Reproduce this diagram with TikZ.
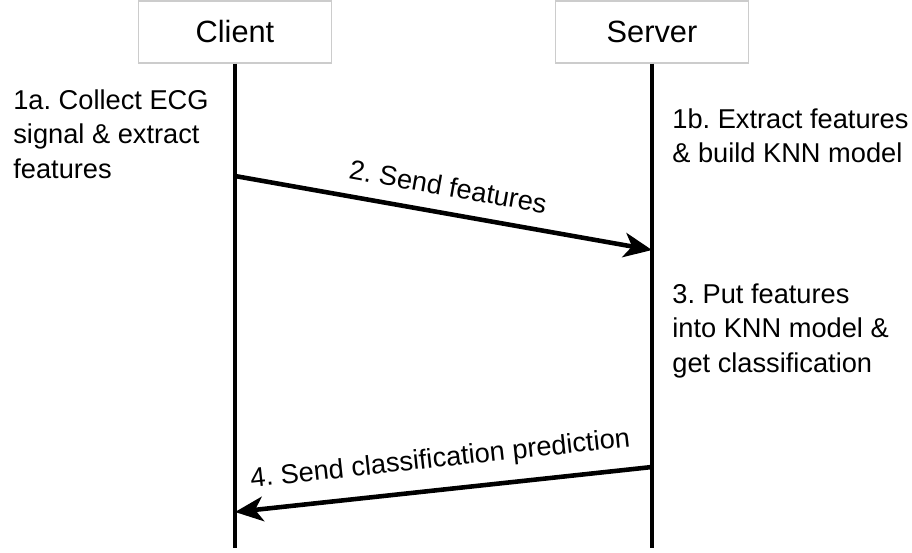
\documentclass[tikz,border=0pt]{standalone}
\usepackage{fontspec}
\setmainfont{Liberation Sans}
\usetikzlibrary{arrows.meta,positioning}
\frenchspacing

\begin{document}
\begin{tikzpicture}[x=0.02cm,y=-0.02cm,
    actor/.style={draw=black!20,line width=0.7pt,minimum width=3.86cm,
        minimum height=1.24cm,font={\fontsize{17.5}{20}\selectfont}},
    lifeline/.style={line width=2.4pt},
    msg/.style={line width=2.6pt},
    tipfwd/.style={-{Stealth[length=16pt,width=14pt,inset=4.5pt]}},
    tipback/.style={{Stealth[length=16pt,width=14pt,inset=4.5pt]}-},
    msglabel/.style={font={\fontsize{15.5}{19.8}\selectfont},sloped,above=5pt},
    note/.style={font={\fontsize{15.5}{19.8}\selectfont},align=left,
        anchor=north west,inner sep=0pt}]
\useasboundingbox (0,0) rectangle (912,552);
\node[actor] (client) at (235,32) {Client};
\node[actor] (server) at (652,32) {Server};
\coordinate (clientend) at (235,548);
\coordinate (serverend) at (652,548);
\draw[lifeline] (client) -- (clientend);
\draw[lifeline] (server) -- (serverend);

\node[note] (collect) at (13,89) {1a. Collect ECG\\signal \& extract\\features};
\node[note] (build) at (672,108) {1b. Extract features\\\& build KNN model};
\node[note] (classify) at (672,283) {3. Put features\\into KNN model \&\\get classification};

\coordinate (send) at (235,176);
\coordinate (recv) at (652,250);
\draw[msg,tipfwd] (send) -- node[msglabel]{2. Send features} (recv);
\coordinate (result) at (235,512);
\coordinate (reply) at (652,467);
\draw[msg,tipback] (result) -- node[msglabel]{4. Send classification prediction} (reply);
\end{tikzpicture}
\end{document}
